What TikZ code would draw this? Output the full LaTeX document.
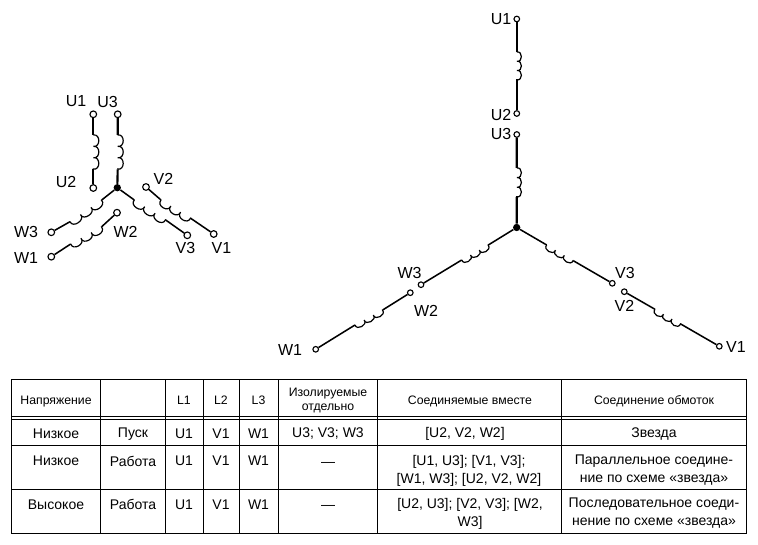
\documentclass[tikz,border=0pt]{standalone}
\usepackage{fontspec}
\setmainfont{Liberation Sans}
\usetikzlibrary{decorations}
\pgfdeclaredecoration{scallop}{s}{%
 \state{s}[width=\pgfdecoratedpathlength/3.02]{%
  \pgfpathcurveto{\pgfpoint{-0.12*\pgfdecoratedpathlength/3.02}{\pgfdecorationsegmentamplitude}}%
   {\pgfpoint{1.12*\pgfdecoratedpathlength/3.02}{\pgfdecorationsegmentamplitude}}%
   {\pgfpoint{\pgfdecoratedpathlength/3.02}{0pt}}%
 }
 \state{final}{\pgfpathlineto{\pgfpointdecoratedpathlast}}
}
\tikzset{
 wire/.style={line width=1.15pt,line join=round},
 heavy/.style={line width=1.6pt,line join=round},
 term/.style={circle,draw=black,fill=white,line width=0.85pt,inner sep=0pt,minimum size=4.2pt},
 bigterm/.style={term,minimum size=5pt},
 dot/.style={circle,fill=black,inner sep=0pt,minimum size=5.5pt},
 lab/.style={font=\fontsize{12}{12}\selectfont,inner sep=0pt},
 coilR/.style={line width=0.9pt,decorate,decoration={scallop,amplitude=-#1}},
 coilL/.style={line width=0.9pt,decorate,decoration={scallop,amplitude=#1}},
 grid/.style={line width=0.75pt},
 thead/.style={font=\fontsize{9.2}{10.5}\selectfont,align=center,inner sep=0pt},
 tcell/.style={font=\fontsize{10.5}{13.5}\selectfont,align=center,inner sep=0pt},
}
\begin{document}
\begin{tikzpicture}[x=0.75pt,y=-0.75pt]
\useasboundingbox (0,0) rectangle (758,545);
% ---- small star
\node[dot] (s0) at (117.3,187.7) {};
\node[bigterm] (su1) at (93.3,114.3) {};
\node[bigterm] (su2) at (93.3,188) {};
\node[bigterm] (su3) at (117.7,114.3) {};
\node[bigterm] (sw3) at (51.3,232.3) {};
\node[bigterm] (sw1) at (51.3,256.7) {};
\node[bigterm] (sw2) at (117,212.7) {};
\node[bigterm] (sv2) at (146,187) {};
\node[bigterm] (sv1) at (213.7,234) {};
\node[bigterm] (sv3) at (187.3,235.3) {};
\draw[heavy] (su1) -- (93.3,135) (93.3,169.3) -- (su2);
\draw[coilL=5.5pt] (93.3,135) -- (93.3,169.3);
\draw[heavy] (su3) -- (117.7,135) (117.7,169.3) -- (s0);
\draw[coilL=5.5pt] (117.7,135) -- (117.7,169.3);
\draw[wire] (sw3) -- (70,221.7) (101.7,200) -- (s0);
\draw[coilR=5.5pt] (70,221.7) -- (101.7,200);
\draw[wire] (sw1) -- (70.7,244) (101.7,226.7) -- (sw2);
\draw[coilR=5.5pt] (70.7,244) -- (101.7,226.7);
\draw[wire] (s0) -- (134.3,200) (165.7,220) -- (sv3);
\draw[coilR=5.5pt] (134.3,200) -- (165.7,220);
\draw[wire] (sv2) -- (161,200) (190.7,218.3) -- (sv1);
\draw[coilR=5.5pt] (161,200) -- (190.7,218.3);
\node[lab] at (76,101.5) (tsu1) {U1};
\node[lab] at (107.5,101.5) (tsu3) {U3};
\node[lab] at (66,181.5) (tsu2) {U2};
\node[lab] at (163.5,179) (tsv2) {V2};
\node[lab] at (26,231.5) (tsw3) {W3};
\node[lab] at (125.5,232) (tsw2) {W2};
\node[lab] at (26,258) (tsw1) {W1};
\node[lab] at (185.5,247.5) (tsv3) {V3};
\node[lab] at (221.5,248) (tsv1) {V1};
% ---- large star
\node[dot] (b0) at (516.7,227.5) {};
\node[term] (bu1) at (516.8,19) {};
\node[term] (bu2) at (516.8,113.5) {};
\node[term] (bu3) at (516.8,134.5) {};
\node[term] (bw3) at (421,284.7) {};
\node[term] (bw2) at (410.3,292.7) {};
\node[term] (bw1) at (315.7,349.3) {};
\node[term] (bv3) at (612.3,283.3) {};
\node[term] (bv2) at (624.3,291.7) {};
\node[term] (bv1) at (719.3,346.3) {};
\draw[heavy] (bu1) -- (516.8,52) (516.8,80) -- (bu2);
\draw[coilL=4.6pt] (516.8,52) -- (516.8,80);
\draw[heavy] (bu3) -- (516.8,168) (516.8,197) -- (b0);
\draw[coilL=4.6pt] (516.8,168) -- (516.8,197);
\draw[wire] (bw3) -- (461.7,260) (488.3,245) -- (b0);
\draw[coilR=4.6pt] (461.7,260) -- (488.3,245);
\draw[wire] (bw1) -- (355,325) (382.7,310) -- (bw2);
\draw[coilR=4.6pt] (355,325) -- (382.7,310);
\draw[wire] (b0) -- (546.7,245) (573.3,260.7) -- (bv3);
\draw[coilR=4.6pt] (546.7,245) -- (573.3,260.7);
\draw[wire] (bv2) -- (655,309.3) (680.7,324) -- (bv1);
\draw[coilR=4.6pt] (655,309.3) -- (680.7,324);
\node[lab] at (501,19) (tbu1) {U1};
\node[lab] at (501,115) (tbu2) {U2};
\node[lab] at (501,134) (tbu3) {U3};
\node[lab] at (409.5,273) (tbw3) {W3};
\node[lab] at (426,310.5) (tbw2) {W2};
\node[lab] at (290,350) (tbw1) {W1};
\node[lab] at (625,273) (tbv3) {V3};
\node[lab] at (624.5,306) (tbv2) {V2};
\node[lab] at (736,347) (tbv1) {V1};
% ---- table
\draw[grid] (11,379.3) rectangle (746.5,534);
\foreach \yy in {417,420,446,490} \draw[grid] (11,\yy) -- (746.5,\yy);
\foreach \xx in {100.5,165,203.5,239,278,377.5,561} \draw[grid] (\xx,379.3) -- (\xx,534);
% header
\node[thead] (h1) at (56,401.5) {Напряжение};
\node[thead] (h3) at (184,400) {L1};
\node[thead] (h4) at (221,400) {L2};
\node[thead] (h5) at (258.5,400) {L3};
\node[thead] (h6) at (328,400.5) {Изолируемые\\отдельно};
\node[thead] (h7) at (470,401.5) {Соединяемые вместе};
\node[thead] (h8) at (654,401.5) {Соединение обмоток};
% row 1
\node[tcell] (a1) at (56,434) {Низкое};
\node[tcell] (a2) at (133,434) {Пуск};
\node[tcell] (a3) at (184,434) {U1};
\node[tcell] (a4) at (221,434) {V1};
\node[tcell] (a5) at (258.5,434) {W1};
\node[tcell] (a6) at (328,434) {U3; V3; W3};
\node[tcell] (a7) at (465,434) {[U2, V2, W2]};
\node[tcell] (a8) at (654,434) {Звезда};
% row 2
\node[tcell] (b1) at (56,461) {Низкое};
\node[tcell] (b2) at (133,461) {Работа};
\node[tcell] (b3) at (184,461) {U1};
\node[tcell] (b4) at (221,461) {V1};
\node[tcell] (b5) at (258.5,461) {W1};
\node[tcell] (b6) at (328,464) {—};
\node[tcell] (b7) at (469,470.5) {[U1, U3]; [V1, V3];\\{[W1, W3]}; [U2, V2, W2]};
\node[tcell] (b8) at (654,470.5) {Параллельное соедине-\\ние по схеме «звезда»};
% row 3
\node[tcell] (c1) at (56,504.5) {Высокое};
\node[tcell] (c2) at (133,504.5) {Работа};
\node[tcell] (c3) at (184,504.5) {U1};
\node[tcell] (c4) at (221,504.5) {V1};
\node[tcell] (c5) at (258.5,504.5) {W1};
\node[tcell] (c6) at (328,507.5) {—};
\node[tcell] (c7) at (470,513.5) {[U2, U3]; [V2, V3]; [W2,\\W3]};
\node[tcell] (c8) at (654,513.5) {Последовательное соеди-\\нение по схеме «звезда»};
\end{tikzpicture}
\end{document}
